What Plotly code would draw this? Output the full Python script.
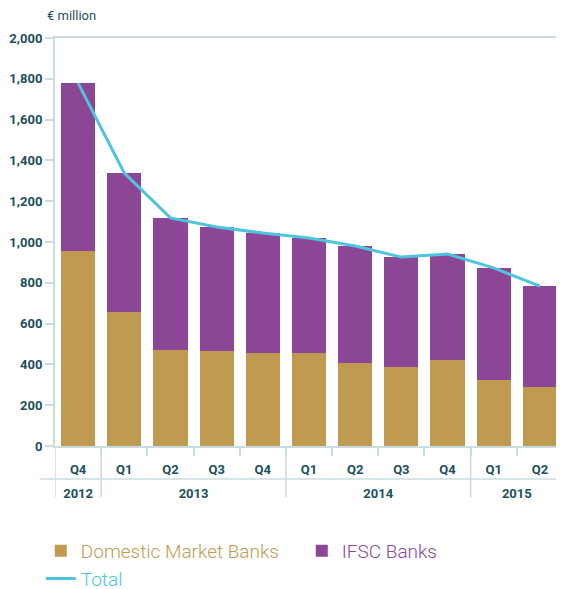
import plotly.graph_objects as go

# ─── Data ────────────────────────────────────────────────────────────────────
QUARTERS = ["Q4", "Q1", "Q2", "Q3", "Q4", "Q1", "Q2", "Q3", "Q4", "Q1", "Q2"]
YEARS = ["2012", "2013", "2014", "2015"]
YEAR_SPANS = [1, 4, 4, 2]          # number of quarters shown per year
DOMESTIC = [956, 657, 471, 466, 456, 456, 407, 387, 422, 323, 289]
IFSC = [823, 681, 647, 608, 588, 564, 573, 539, 519, 550, 495]
TOTAL = [d + i for d, i in zip(DOMESTIC, IFSC)]
Y_TICKS = [0, 200, 400, 600, 800, 1000, 1200, 1400, 1600, 1800, 2000]

TAN = "#c19a52"
PURPLE = "#8b4796"
CYAN = "#4ec4de"
TEXT = "#1d4f5c"
AXIS = "#c9dce0"
FONT = "Roboto, Liberation Sans, sans-serif"

idx = list(range(len(QUARTERS)))
xrange = [-0.5, len(QUARTERS) - 0.5]

# year group centres and boundaries in category units
bounds = [-0.5]
for n in YEAR_SPANS:
    bounds.append(bounds[-1] + n)
year_centres = [(a + b) / 2 for a, b in zip(bounds[:-1], bounds[1:])]
quarter_bounds = [i + 0.5 for i in idx[:-1]]

fig = go.Figure()
fig.add_trace(go.Bar(
    x=idx, y=DOMESTIC, marker=dict(color=TAN, line_width=0),
    name=f"<span style='color:{TAN}'>Domestic Market Banks</span>",
))
fig.add_trace(go.Bar(
    x=idx, y=IFSC, marker=dict(color=PURPLE, line_width=0),
    name=f"<span style='color:{PURPLE}'>IFSC Banks</span>",
))
fig.add_trace(go.Scatter(
    x=idx, y=TOTAL, xaxis="x2", mode="lines", line=dict(color=CYAN, width=3),
    name=f"<span style='color:{CYAN}'>Total</span>",
))

# vertical year dividers (from axis down through both label rows) + row divider
shapes = [dict(type="line", xref="x", yref="paper", x0=b, x1=b,
               y0=-0.041, y1=0.0748, line=dict(color=AXIS, width=1.5))
          for b in bounds]
shapes.append(dict(type="line", xref="paper", yref="paper", x0=-0.03, x1=1.0,
                   y0=0, y1=0, line=dict(color=AXIS, width=1.5)))

fig.update_layout(
    width=556, height=581,
    barmode="stack", bargap=0.26,
    paper_bgcolor="white", plot_bgcolor="white",
    font=dict(family=FONT, color=TEXT, size=12),
    margin=dict(l=47, r=1, t=30, b=110, autoexpand=False),
    showlegend=True,
    legend=dict(
        orientation="h", x=-0.028, xanchor="left", y=-0.12, yanchor="top",
        font=dict(size=19, family=FONT, weight=300),
        entrywidth=216, entrywidthmode="pixels", traceorder="normal",
        tracegroupgap=0,
    ),
    annotations=[dict(
        text="€ million", xref="paper", yref="paper", x=-0.02, y=1.052,
        xanchor="left", yanchor="middle", showarrow=False,
        font=dict(size=13, color=TEXT),
    )],
    shapes=shapes,
)

fig.update_layout(
    yaxis=dict(
        domain=[0.0748, 1], range=[0, 2000], tickvals=Y_TICKS, tickformat=",",
        showgrid=False, zeroline=False, automargin=False,
        showline=True, linecolor=AXIS, linewidth=2, mirror=True,
        ticks="outside", ticklen=8, tickcolor=AXIS, tickwidth=1.5,
        tickfont=dict(size=13, color=TEXT, weight="bold"),
    ),
    xaxis=dict(
        range=xrange, tickvals=idx, ticktext=QUARTERS,
        showgrid=False, zeroline=False, automargin=False,
        showline=True, linecolor=AXIS, linewidth=2, mirror=True,
        ticks="", ticklabelstandoff=10,
        minor=dict(tickvals=quarter_bounds, ticks="outside", ticklen=8,
                   tickcolor=AXIS, tickwidth=1.5, showgrid=False),
        tickfont=dict(size=13, color=TEXT, weight="bold"),
    ),
    xaxis2=dict(
        overlaying="x", anchor="free", position=0, side="bottom",
        range=xrange, tickvals=year_centres, ticktext=YEARS,
        showgrid=False, zeroline=False, showline=False, automargin=False,
        ticks="", ticklabelstandoff=5,
        tickfont=dict(size=13, color=TEXT, weight="bold"),
    ),
)

fig.write_html("out.html")
